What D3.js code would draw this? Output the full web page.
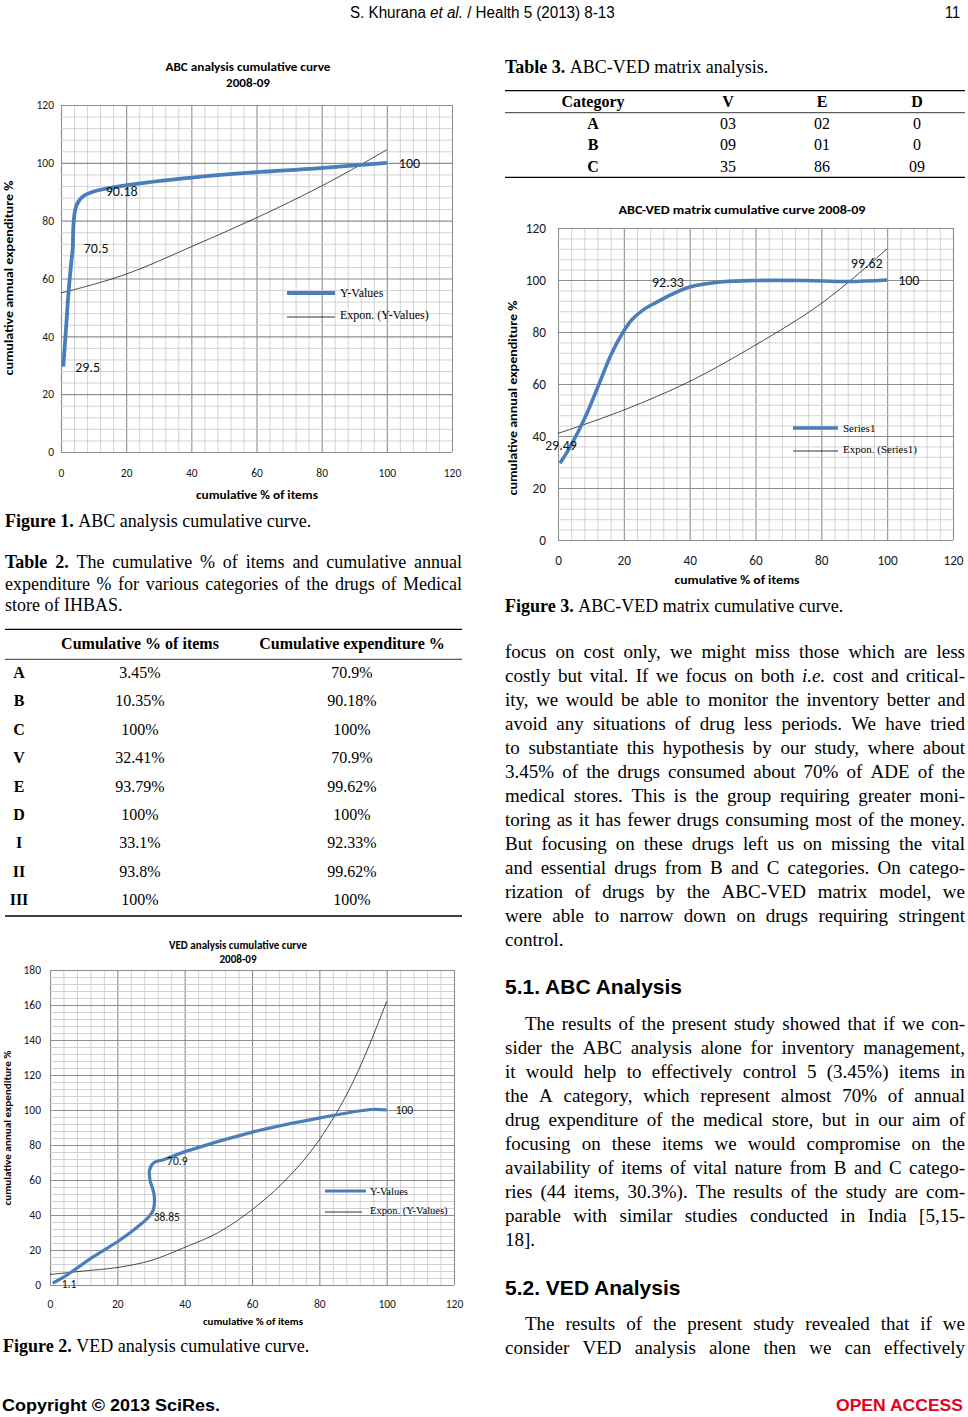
<!DOCTYPE html>
<html>
<head>
<meta charset="utf-8">
<script src="https://cdn.jsdelivr.net/npm/d3@7"></script>
<style>
body{margin:0;background:#fff;}
svg{display:block;}
</style>
</head>
<body>
<svg id="page" width="968" height="1417"></svg>
<script>
// ---- data ----
var xTicks = [0,20,40,60,80,100,120];
var yTicks120 = [0,20,40,60,80,100,120];
var yTicks180 = [0,20,40,60,80,100,120,140,160,180];

// Figure 1: ABC analysis cumulative curve
var abcItems = [0.7,1.5,2.3,3.1,3.6,3.8,4.4,5.3,7,10.35,17,37.5,58,78.5,100];
var abcSpend = [29.5,42,55,65,70.5,78,84,86.5,88.6,90.18,91.7,94.6,96.6,98.1,100];
var abcTrendX = [0,20,40,60,80,100];
var abcTrendY = [55,61.5,71,81,92,104.5];
var abcLabelX = [0.7,3.6,10.35,100];
var abcLabelY = [29.5,70.5,90.18,100];

// Figure 2: VED analysis cumulative curve
var vedItems = [0.8,5,12.9,20.8,26.7,29.3,30.7,30.9,29.7,29.6,30.8,33.7,40.6,60.4,80.2,95.5,100];
var vedSpend = [1.1,5.7,16.2,25.7,34.3,38.85,43,52,60,66,69.9,71.6,76.5,87.5,95.5,100.3,100];
var vedTrendX = [0,10,20,30,40,50,60,70,80,90,100];
var vedTrendY = [6,8,10,14,21.5,30,43,60,83,116,162];
var vedLabelX = [0.8,29.3,32.41,100];
var vedLabelY = [1.1,38.85,70.9,100];

// Figure 3: ABC-VED matrix cumulative curve
var matItems = [0.6,4,8,12.8,16,19.8,22.5,25.9,30,33,40,50,60,75,88,100];
var matSpend = [29.49,36.5,46.5,61,71,80,84.8,88.5,91.5,93.5,97.3,99.3,99.8,99.8,99.4,100];
var matTrendX = [0,20,40,60,80,100];
var matTrendY = [41,50,61,75,91,112];
var matLabelX = [0.6,33.1,93.8,100];
var matLabelY = [29.49,92.33,99.62,100];

// Table 2
var t2Cats = ['A','B','C','V','E','D','I','II','III'];
var t2Items = ['3.45%','10.35%','100%','32.41%','93.79%','100%','33.1%','93.8%','100%'];
var t2Spend = ['70.9%','90.18%','100%','70.9%','99.62%','100%','92.33%','99.62%','100%'];

// Table 3
var t3Cats = ['A','B','C'];
var t3V = ['03','09','35'];
var t3E = ['02','01','86'];
var t3D = ['0','0','09'];

var SERIF = '"Liberation Serif","Times New Roman",serif';
var SANS = '"Liberation Sans",Arial,sans-serif';
var CAL = 'Carlito,Lato,"Open Sans",sans-serif';
var BLUE = '#4a7ebb';

var svg = d3.select('#page');
svg.append('rect').attr('width',968).attr('height',1417).attr('fill','#fff');

// ---- page header / footer ----
var hdrG = svg.append('g');
var hdr = hdrG.append('text').attr('x',0).attr('y',0)
    .style('font-family',SANS).style('font-size','16px');
hdr.append('tspan').text('S. Khurana ');
hdr.append('tspan').style('font-style','italic').text('et al.');
hdr.append('tspan').text(' / Health 5 (2013) 8-13');
var hw = hdr.node().getBBox().width;
hdrG.attr('transform','translate(350,18) scale('+(265/hw)+',1)');

svg.append('text').attr('x',945).attr('y',18).attr('textLength',15).attr('lengthAdjust','spacingAndGlyphs')
    .style('font-family',SANS).style('font-size','16px').text('11');

svg.append('text').attr('x',2).attr('y',1411).attr('textLength',218).attr('lengthAdjust','spacingAndGlyphs')
    .style('font-family',SANS).style('font-size','16px').style('font-weight','bold').text('Copyright © 2013 SciRes.');
svg.append('text').attr('x',836).attr('y',1411).attr('textLength',127).attr('lengthAdjust','spacingAndGlyphs')
    .style('font-family',SANS).style('font-size','16px').style('font-weight','bold').attr('fill','#e3001b').text('OPEN ACCESS');

// ---- text helpers ----
function textLine(g, str, x0, x1, y, size, justify, family){
    var words = str.split(' ');
    var nodes = words.map(function(w){
        var t = g.append('text').attr('y',y).style('font-family',family||SERIF).style('font-size',size+'px');
        if(w.charAt(0)==='*'){ w = w.slice(1); t.style('font-weight','bold'); }
        else if(w.charAt(0)==='_'){ w = w.slice(1); t.style('font-style','italic'); }
        t.text(w);
        return t;
    });
    var widths = nodes.map(function(t){ return t.node().getComputedTextLength(); });
    var total = d3.sum(widths);
    var gap = (justify && words.length>1) ? (x1-x0-total)/(words.length-1) : size*0.25;
    var cx = x0;
    nodes.forEach(function(t,i){ t.attr('x',cx); cx += widths[i]+gap; });
}

function paragraph(lines, x0, x1, y0, lh, size, indent, lastJust){
    var g = svg.append('g');
    lines.forEach(function(s,i){
        var last = i===lines.length-1;
        textLine(g, s, x0+(i===0?indent:0), x1, y0+i*lh, size, !last || lastJust);
    });
}

// ---- charts ----
function drawChart(cfg){
    var g = svg.append('g');
    var x = d3.scaleLinear().domain([0,120]).range(cfg.xr);
    var y = d3.scaleLinear().domain([0,cfg.ymax]).range(cfg.yr);
    var w = cfg.xr[1]-cfg.xr[0], h = cfg.yr[0]-cfg.yr[1];

    // gridlines via axes
    var gx = g.append('g').attr('transform','translate(0,'+cfg.yr[0]+')')
        .call(d3.axisBottom(x).tickValues(d3.range(0,121,4)).tickSize(-h).tickFormat(''));
    var gy = g.append('g').attr('transform','translate('+cfg.xr[0]+',0)')
        .call(d3.axisLeft(y).tickValues(d3.range(0,cfg.ymax+1,4)).tickSize(-w).tickFormat(''));
    [gx,gy].forEach(function(a){
        a.select('.domain').remove();
        a.selectAll('line')
            .attr('stroke',function(d){ return d%20===0 ? '#8e8e8e' : '#c6c6c6'; })
            .attr('stroke-width',function(d){ return d%20===0 ? 1.1 : 0.8; });
    });

    // tick labels
    var ax = g.append('g').attr('transform','translate(0,'+cfg.yr[0]+')')
        .call(d3.axisBottom(x).tickValues(xTicks).tickSize(0).tickPadding(cfg.xpad));
    var ay = g.append('g').attr('transform','translate('+cfg.xr[0]+',0)')
        .call(d3.axisLeft(y).tickValues(cfg.yTicks).tickSize(0).tickPadding(cfg.ypad));
    [ax,ay].forEach(function(a){
        a.select('.domain').remove();
        a.selectAll('text').style('font-family',CAL).style('font-size',cfg.tickSize+'px').attr('fill','#1a1a1a');
    });

    // trend line (black thin)
    var trend = d3.line().x(function(d){return x(d[0]);}).y(function(d){return y(d[1]);}).curve(d3.curveMonotoneX);
    g.append('path').datum(d3.zip(cfg.trendX,cfg.trendY)).attr('d',trend)
        .attr('fill','none').attr('stroke','#000').attr('stroke-width',0.7);

    // series (smoothed)
    var series = d3.line().x(function(d){return x(d[0]);}).y(function(d){return y(d[1]);}).curve(d3.curveCatmullRom.alpha(0.5));
    g.append('path').datum(d3.zip(cfg.sx,cfg.sy)).attr('d',series)
        .attr('fill','none').attr('stroke',BLUE).attr('stroke-width',cfg.lw).attr('stroke-linejoin','round');

    // data labels
    cfg.lx.forEach(function(v,i){
        var o = cfg.loff[i];
        g.append('text').attr('x',x(v)+o[0]).attr('y',y(cfg.ly[i])+o[1])
            .attr('text-anchor',o[2]||'start')
            .style('font-family',CAL).style('font-size',cfg.labSize+'px').attr('fill','#111')
            .text(String(cfg.ly[i]));
    });

    // titles
    cfg.title.forEach(function(t){
        g.append('text').attr('x',t[1]).attr('y',t[2]).attr('text-anchor','middle')
            .attr('textLength',t[3]).attr('lengthAdjust','spacingAndGlyphs')
            .style('font-family',CAL).style('font-weight','bold').style('font-size',t[4]+'px').text(t[0]);
    });
    var xl = cfg.xlab;
    g.append('text').attr('x',xl[1]).attr('y',xl[2]).attr('text-anchor','middle')
        .attr('textLength',xl[3]).attr('lengthAdjust','spacingAndGlyphs')
        .style('font-family',CAL).style('font-weight','bold').style('font-size',xl[4]+'px').text(xl[0]);
    var yl = cfg.ylab;
    g.append('text').attr('transform','translate('+yl[1]+','+yl[2]+') rotate(-90)').attr('text-anchor','middle')
        .attr('textLength',yl[3]).attr('lengthAdjust','spacingAndGlyphs')
        .style('font-family',CAL).style('font-weight','bold').style('font-size',yl[4]+'px').text(yl[0]);

    // legend
    var L = cfg.legend;
    g.append('line').attr('x1',L.x0).attr('x2',L.x1).attr('y1',L.y1).attr('y2',L.y1)
        .attr('stroke',BLUE).attr('stroke-width',cfg.lw);
    g.append('line').attr('x1',L.x0).attr('x2',L.x1b).attr('y1',L.y2).attr('y2',L.y2)
        .attr('stroke','#000').attr('stroke-width',0.8);
    g.append('text').attr('x',L.tx).attr('y',L.y1+4).style('font-family',SERIF).style('font-size',L.fs+'px').text(L.names[0]);
    g.append('text').attr('x',L.tx).attr('y',L.y2+2).style('font-family',SERIF).style('font-size',L.fs+'px').text(L.names[1]);
}

drawChart({
    xr:[61,452], yr:[452,105], ymax:120, yTicks:yTicks120,
    xpad:17, ypad:7, tickSize:11.5, lw:3.8, labSize:14,
    sx:abcItems, sy:abcSpend, trendX:abcTrendX, trendY:abcTrendY,
    lx:abcLabelX, ly:abcLabelY, loff:[[12,5],[11,5],[11,5],[12,5]],
    title:[['ABC analysis cumulative curve',248,71,165,12],['2008-09',248,87,44,12]],
    xlab:['cumulative % of items',257,499,122,12],
    ylab:['cumulative annual  expenditure %',13,278,195,12],
    legend:{x0:287,x1:335,x1b:335,y1:293,y2:317,tx:340,fs:12,names:['Y-Values','Expon. (Y-Values)']}
});

drawChart({
    xr:[50,454], yr:[1285,970], ymax:180, yTicks:yTicks180,
    xpad:14.5, ypad:9, tickSize:11.5, lw:3.2, labSize:11.5,
    sx:vedItems, sy:vedSpend, trendX:vedTrendX, trendY:vedTrendY,
    lx:vedLabelX, ly:vedLabelY, loff:[[9,5],[5,4],[8,4],[9,4]],
    title:[['VED analysis cumulative curve',238,949,138,11],['2008-09',238,963,37,11]],
    xlab:['cumulative % of items',253,1325,100,10.5],
    ylab:['cumulative annual expenditure %',11,1128,155,10.5],
    legend:{x0:325,x1:366,x1b:362,y1:1191,y2:1212,tx:370,fs:10.5,names:['Y-Values','Expon. (Y-Values)']}
});

drawChart({
    xr:[558,953], yr:[540,228], ymax:120, yTicks:yTicks120,
    xpad:16, ypad:12, tickSize:13.3, lw:3.6, labSize:14,
    sx:matItems, sy:matSpend, trendX:matTrendX, trendY:matTrendY,
    lx:matLabelX, ly:matLabelY, loff:[[1,-13,'middle'],[1,-13,'middle'],[0,-13,'middle'],[11,5]],
    title:[['ABC-VED matrix cumulative curve 2008-09',742,214,247,12]],
    xlab:['cumulative % of items',737,584,125,12],
    ylab:['cumulative annual  expenditure %',517,398,195,12],
    legend:{x0:793,x1:838,x1b:838,y1:428,y2:451,tx:843,fs:11,names:['Series1','Expon. (Series1)']}
});

// ---- captions ----
var capG = svg.append('g');
textLine(capG,'*Figure *1. ABC analysis cumulative curve.',5,462,527,18,false);
textLine(capG,'*Figure *3. ABC-VED matrix cumulative curve.',505,965,612,18,false);
textLine(capG,'*Figure *2. VED analysis cumulative curve.',3,462,1352,18,false);
textLine(capG,'*Table *2. The cumulative % of items and cumulative annual',5,462,568,18,true);
textLine(capG,'expenditure % for various categories of the drugs of Medical',5,462,590,18,true);
textLine(capG,'store of IHBAS.',5,462,611,18,false);
textLine(capG,'*Table *3. ABC-VED matrix analysis.',505,965,73,18,false);

// ---- Table 2 ----
var t2 = svg.append('g').style('font-family',SERIF);
[[629.3,1.3],[659.3,0.8],[916,1.3]].forEach(function(r){
    t2.append('line').attr('x1',5).attr('x2',462).attr('y1',r[0]).attr('y2',r[0]).attr('stroke','#000').attr('stroke-width',r[1]);
});
t2.append('text').attr('x',140).attr('y',649).attr('text-anchor','middle').style('font-weight','bold').style('font-size','16px').text('Cumulative % of items');
t2.append('text').attr('x',352).attr('y',649).attr('text-anchor','middle').style('font-weight','bold').style('font-size','16px').text('Cumulative expenditure %');
var r2 = d3.scaleLinear().domain([0,t2Cats.length-1]).range([678,905]);
t2Cats.forEach(function(c,i){
    t2.append('text').attr('x',19).attr('y',r2(i)).attr('text-anchor','middle').style('font-weight','bold').style('font-size','16px').text(c);
    t2.append('text').attr('x',140).attr('y',r2(i)).attr('text-anchor','middle').style('font-size','16px').text(t2Items[i]);
    t2.append('text').attr('x',352).attr('y',r2(i)).attr('text-anchor','middle').style('font-size','16px').text(t2Spend[i]);
});

// ---- Table 3 ----
var t3 = svg.append('g').style('font-family',SERIF);
[[90.7,1.3],[112.7,0.8],[177.3,1.3]].forEach(function(r){
    t3.append('line').attr('x1',505).attr('x2',965).attr('y1',r[0]).attr('y2',r[0]).attr('stroke','#000').attr('stroke-width',r[1]);
});
var c3 = [593,728,822,917];
['Category','V','E','D'].forEach(function(hd,j){
    t3.append('text').attr('x',c3[j]).attr('y',107).attr('text-anchor','middle').style('font-weight','bold').style('font-size','16px').text(hd);
});
var r3 = d3.scaleLinear().domain([0,2]).range([128.5,172]);
t3Cats.forEach(function(c,i){
    t3.append('text').attr('x',c3[0]).attr('y',r3(i)).attr('text-anchor','middle').style('font-weight','bold').style('font-size','16px').text(c);
    [t3V[i],t3E[i],t3D[i]].forEach(function(v,j){
        t3.append('text').attr('x',c3[j+1]).attr('y',r3(i)).attr('text-anchor','middle').style('font-size','16px').text(v);
    });
});

// ---- body text, right column ----
paragraph([
    'focus on cost only, we might miss those which are less',
    'costly but vital. If we focus on both _i.e. cost and critical-',
    'ity, we would be able to monitor the inventory better and',
    'avoid any situations of drug less periods. We have tried',
    'to substantiate this hypothesis by our study, where about',
    '3.45% of the drugs consumed about 70% of ADE of the',
    'medical stores. This is the group requiring greater moni-',
    'toring as it has fewer drugs consuming most of the money.',
    'But focusing on these drugs left us on missing the vital',
    'and essential drugs from B and C categories. On catego-',
    'rization of drugs by the ABC-VED matrix model, we',
    'were able to narrow down on drugs requiring stringent',
    'control.'
], 505, 965, 658, 24, 19, 0, false);

svg.append('text').attr('x',505).attr('y',994).style('font-family',SANS).style('font-weight','bold').style('font-size','21px').text('5.1. ABC Analysis');

paragraph([
    'The results of the present study showed that if we con-',
    'sider the ABC analysis alone for inventory management,',
    'it would help to effectively control 5 (3.45%) items in',
    'the A category, which represent almost 70% of annual',
    'drug expenditure of the medical store, but in our aim of',
    'focusing on these items we would compromise on the',
    'availability of items of vital nature from B and C catego-',
    'ries (44 items, 30.3%). The results of the study are com-',
    'parable with similar studies conducted in India [5,15-',
    '18].'
], 505, 965, 1030, 24, 19, 20, false);

svg.append('text').attr('x',505).attr('y',1295).style('font-family',SANS).style('font-weight','bold').style('font-size','21px').text('5.2. VED Analysis');

paragraph([
    'The results of the present study revealed that if we',
    'consider VED analysis alone then we can effectively'
], 505, 965, 1330, 24, 19, 20, true);
</script>
</body>
</html>
